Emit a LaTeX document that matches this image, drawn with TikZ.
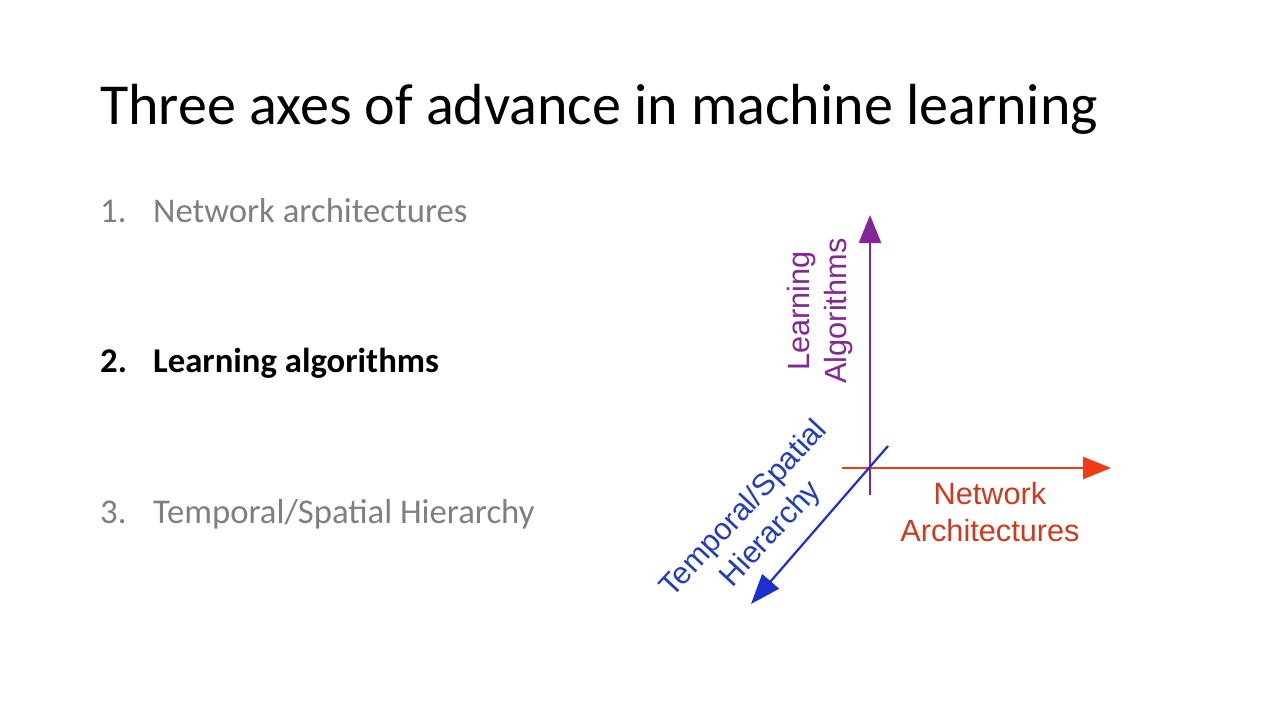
\documentclass[tikz,border=0pt]{standalone}
\usepackage{fontspec}
\setmainfont{Carlito}
\newfontfamily\axisfont{Liberation Sans}
\usetikzlibrary{arrows.meta}
\definecolor{itemgray}{RGB}{127,127,127}
\definecolor{algpurple}{RGB}{133,38,150}
\definecolor{netred}{RGB}{238,58,22}
\definecolor{nettext}{RGB}{205,58,30}
\definecolor{hierblue}{RGB}{28,48,205}
\definecolor{hiertext}{RGB}{35,60,190}
\tikzset{
  item/.style={anchor=base west, inner sep=0, font=\fontsize{34.7}{40}\selectfont},
  axis/.style={line width=2.5pt, -{Triangle[length=28pt,width=22pt]}},
  axislabel/.style={align=center, inner sep=0, font=\axisfont\fontsize{30.7}{37}\selectfont}
}

\begin{document}
\begin{tikzpicture}[x=1pt, y=-1pt]
    \useasboundingbox[fill=white] (0,0) rectangle (1280,720);

    \node[anchor=base west, inner sep=0, font=\fontsize{58}{70}\selectfont] (title) at (100,124) {Three axes of advance in machine learning};

    % the list
    \node[item, text=itemgray] (n1) at (100,222) {1.};
    \node[item, text=itemgray] (t1) at (153,222) {Network architectures};
    \node[item, font=\fontsize{34.7}{40}\selectfont\bfseries] (n2) at (100,372) {2.};
    \node[item, font=\fontsize{34.7}{40}\selectfont\bfseries] (t2) at (153,372) {Learning algorithms};
    \node[item, text=itemgray] (n3) at (100,523) {3.};
    \node[item, text=itemgray] (t3) at (153,523) {Temporal/Spatial Hierarchy};

    % the three axes
    \coordinate (alg0) at (870,495);
    \coordinate (alg1) at (870,215);
    \coordinate (net0) at (842,468);
    \coordinate (net1) at (1111,468);
    \coordinate (hier0) at (888,446);
    \coordinate (hier1) at (751,604);

    \draw[axis, algpurple] (alg0) -- (alg1);
    \draw[axis, netred] (net0) -- (net1);
    \draw[axis, hierblue, line width=2.2pt, -{Triangle[length=30pt,width=22pt]}] (hier0) -- (hier1);

    \node[axislabel, text=algpurple, rotate=90] (alglabel) at (820,311) {Learning\\Algorithms};
    \node[axislabel, text=nettext] (netlabel) at (990,512) {Network\\Architectures};
    \node[axislabel, text=hiertext, rotate=47] (hierlabel) at (758,522) {Temporal/Spatial\\Hierarchy};
\end{tikzpicture}
\end{document}
